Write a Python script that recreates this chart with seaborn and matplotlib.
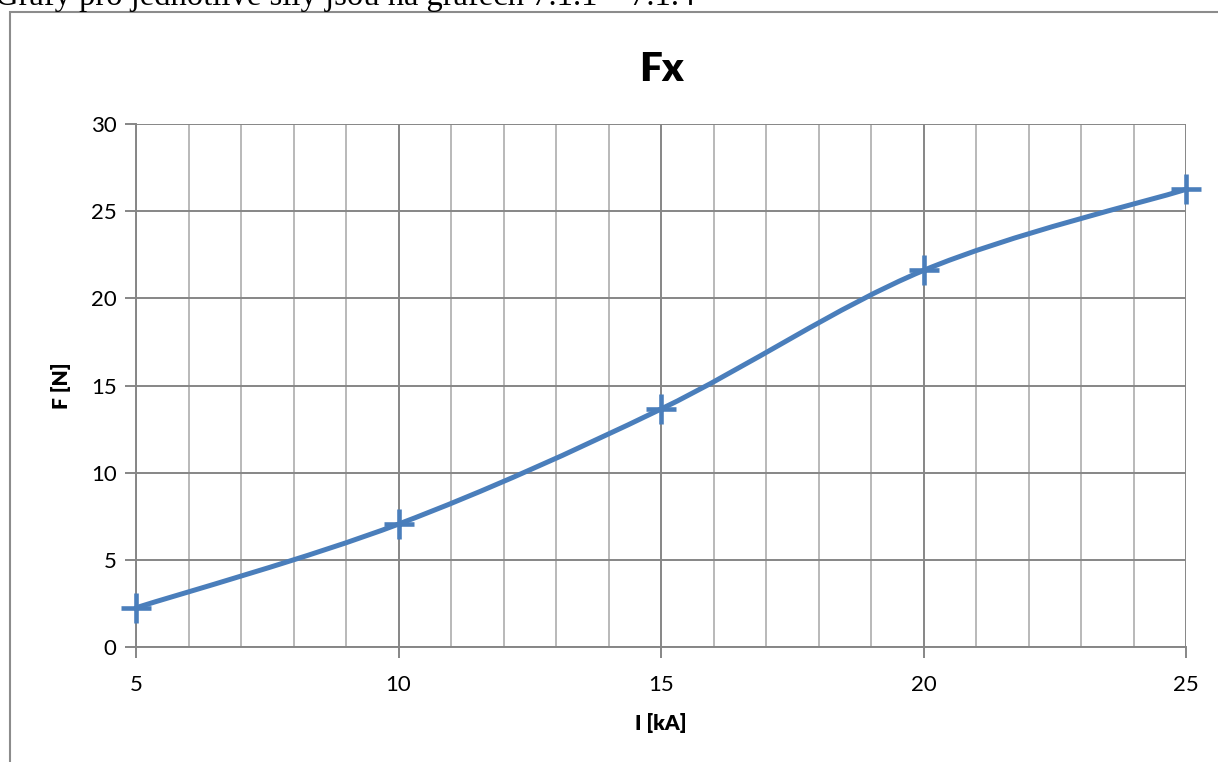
import numpy as np
import pandas as pd
import matplotlib
matplotlib.use("Agg")
import matplotlib.pyplot as plt
from matplotlib.path import Path
from matplotlib.patches import PathPatch, Rectangle
from matplotlib.ticker import MultipleLocator
import seaborn as sns

# data
current_ka = [5, 10, 15, 20, 25]
force_n = [2.25, 7.05, 13.65, 21.6, 26.25]

title = "Fx"
x_label = "I [kA]"
y_label = "F [N]"
caption = "Grafy pro jednotlivé síly jsou na grafech 7.1.1 – 7.1.4"

line_color = "#4a7ebb"
major_grid = "#868686"
minor_grid = "#b9b9b9"

sns.set_theme(style="white")
plt.rcParams["font.family"] = ["Lato", "DejaVu Sans"]


def smooth_path(xs, ys):
    """Excel-like smoothed line: cubic Bezier through the points"""
    pts = np.column_stack([xs, ys]).astype(float)
    ext = np.vstack([pts[0], pts, pts[-1]])
    verts = [pts[0]]
    codes = [Path.MOVETO]
    for i in range(len(pts) - 1):
        p0, p1, p2, p3 = ext[i], ext[i + 1], ext[i + 2], ext[i + 3]
        c1 = p1 + (p2 - p0) / 6.0
        c2 = p2 - (p3 - p1) / 6.0
        verts += [c1, c2, p2]
        codes += [Path.CURVE4] * 3
    return Path(verts, codes)


df = pd.DataFrame({"I": current_ka, "F": force_n})

fig = plt.figure(figsize=(12.18, 7.62), dpi=100)
ax = fig.add_axes([136 / 1218, 1 - 647 / 762, 1050 / 1218, 523 / 762])

# outer chart frame and cut-off caption line above it
fig.patches.append(Rectangle((10 / 1218, -0.1), 1.2, 1 - 12 / 762 + 0.1,
                             transform=fig.transFigure, fill=False,
                             edgecolor="#8c8c8c", linewidth=1.5))
fig.text(-0.004, 1 - 5 / 762, caption, family="Liberation Serif",
         fontsize=23.5, ha="left", va="baseline", color="black")

ax.add_patch(PathPatch(smooth_path(df["I"], df["F"]), facecolor="none",
                       edgecolor=line_color, linewidth=3.6, zorder=3,
                       capstyle="round", clip_on=False))
sns.lineplot(data=df, x="I", y="F", ax=ax, linestyle="", marker="+",
             markersize=21, markeredgewidth=3.3, color=line_color,
             markeredgecolor=line_color, zorder=4, clip_on=False)

ax.set_xlim(5, 25)
ax.set_ylim(0, 30)
ax.xaxis.set_major_locator(MultipleLocator(5))
ax.xaxis.set_minor_locator(MultipleLocator(1))
ax.yaxis.set_major_locator(MultipleLocator(5))

ax.grid(which="major", axis="both", color=major_grid, linewidth=1.4)
ax.grid(which="minor", axis="x", color=minor_grid, linewidth=1.4)
ax.set_axisbelow(True)

for side in ["top", "right"]:
    ax.spines[side].set_visible(False)
for side in ["left", "bottom"]:
    ax.spines[side].set_color(major_grid)
    ax.spines[side].set_linewidth(1.4)

ax.tick_params(which="major", length=8, width=1.4, color=major_grid,
               labelsize=16, pad=6, direction="out", left=True, bottom=True,
               labelcolor="black")
ax.tick_params(which="minor", length=0)
ax.tick_params(axis="x", pad=12)

ax.set_xlabel(x_label, fontsize=15, fontweight="heavy", labelpad=13,
              color="black")
ax.set_ylabel(y_label, fontsize=15, fontweight="heavy", labelpad=14,
              color="black")
ax.set_title(title, fontsize=29, fontweight="heavy", pad=31, color="black")

fig.savefig("out.png", dpi=100, facecolor="white")
